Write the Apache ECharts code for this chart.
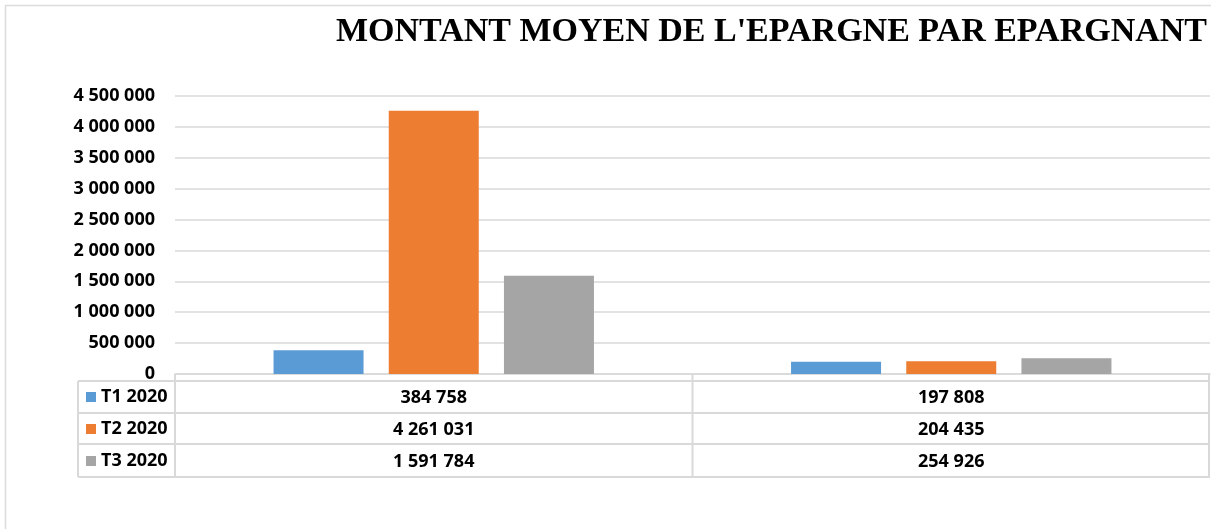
<!DOCTYPE html>
<html>
<head>
<meta charset="utf-8">
<script src="https://cdn.jsdelivr.net/npm/echarts@6/dist/echarts.min.js"></script>
<style>
html,body{margin:0;padding:0;background:#fff;}
#c{width:1211px;height:529px;}
</style>
</head>
<body>
<div id="c"></div>
<script>
var title = "MONTANT MOYEN DE L'EPARGNE PAR EPARGNANT";
var categories = ['Catégorie 1', 'Catégorie 2'];
var seriesNames = ['T1 2020', 'T2 2020', 'T3 2020'];
var t1 = [384758, 197808];
var t2 = [4261031, 204435];
var t3 = [1591784, 254926];
var seriesValues = [t1, t2, t3];
var colors = ['#5B9BD5', '#ED7D31', '#A5A5A5'];
var yMax = 4500000, yInterval = 500000;

function fmt(v) { return String(v).replace(/\B(?=(\d{3})+(?!\d))/g, ' '); }

var FONT = '"Open Sans", "Liberation Sans", sans-serif';
var G = { left: 175, right: 1, top: 96, bottom: 155 };
var W = 1211, H = 529;
var LINE = '#d9d9d9';

var chart = echarts.init(document.getElementById('c'), null, { renderer: 'canvas' });

var series = seriesNames.map(function (n, i) {
  return {
    name: n, type: 'bar', data: seriesValues[i],
    barWidth: 90, barGap: '28%',
    itemStyle: { color: colors[i] },
    emphasis: { disabled: true }
  };
});

var option = {
  animation: false,
  backgroundColor: '#fff',
  title: {
    text: title, right: 4, top: 15, padding: 0,
    textStyle: { fontFamily: '"Liberation Serif", "Times New Roman", serif', fontWeight: 'bold', fontSize: 34, color: '#000' }
  },
  legend: {
    orient: 'vertical', left: 86, top: 387, padding: 0,
    icon: 'rect', itemWidth: 10, itemHeight: 10, itemGap: 12,
    textStyle: { fontFamily: FONT, fontWeight: 'bold', fontSize: 18, color: '#000', lineHeight: 20 },
    selectedMode: false,
    data: seriesNames
  },
  grid: { left: G.left, right: G.right, top: G.top, bottom: G.bottom, containLabel: false },
  xAxis: {
    type: 'category', data: categories,
    axisLine: { lineStyle: { color: LINE, width: 1.5 } },
    axisTick: { show: false },
    axisLabel: {
      interval: 0, margin: 8,
      formatter: function (v, idx) {
        return seriesValues.map(function (s) { return '{v|' + fmt(s[idx]) + '}'; }).join('\n');
      },
      rich: { v: { fontFamily: FONT, fontWeight: 'bold', fontSize: 18, lineHeight: 32, color: '#000' } }
    }
  },
  yAxis: {
    type: 'value', min: 0, max: yMax, interval: yInterval,
    axisLine: { show: false }, axisTick: { show: false },
    splitLine: { lineStyle: { color: LINE, width: 1.5 } },
    axisLabel: { margin: 20, fontFamily: FONT, fontWeight: 'bold', fontSize: 18, color: '#000', formatter: fmt }
  },
  series: series
};
chart.setOption(option);

// data table grid lines, placed from the grid geometry
var xAxisY = chart.convertToPixel({ yAxisIndex: 0 }, 0);
var bandW = (W - G.right - G.left) / categories.length;
var tableLeft = 78, tableTop = 381, rowH = [413, 444, 477];
var lines = [];
function hl(y, xa, xb) { lines.push({ type: 'line', shape: { x1: xa, y1: y, x2: xb, y2: y }, style: { stroke: LINE, lineWidth: 2 }, silent: true }); }
function vl(x, ya, yb) { lines.push({ type: 'line', shape: { x1: x, y1: ya, x2: x, y2: yb }, style: { stroke: LINE, lineWidth: 2 }, silent: true }); }
var right = W - G.right;
hl(tableTop, tableLeft, right);
rowH.forEach(function (y) { hl(y, tableLeft, right); });
vl(tableLeft, tableTop, rowH[2]);
for (var k = 0; k <= categories.length; k++) {
  var xx = G.left + k * bandW;
  if (k === categories.length) xx = right - 1;
  vl(xx, xAxisY, rowH[2]);
}
// outer chart frame
lines.push({ type: 'rect', shape: { x: 5.5, y: 5.5, width: 1300, height: 600 }, style: { fill: null, stroke: '#dcdcdc', lineWidth: 1.5 }, silent: true, z: -1 });
chart.setOption({ graphic: lines });
</script>
</body>
</html>
